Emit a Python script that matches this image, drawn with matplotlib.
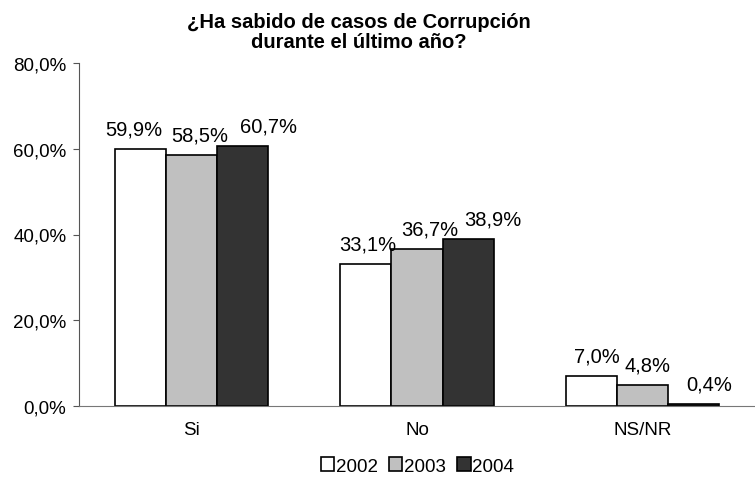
import matplotlib.pyplot as plt
import numpy as np

plt.rcParams["font.family"] = ["Liberation Sans", "DejaVu Sans"]

categories = ["Si", "No", "NS/NR"]
years = ["2002", "2003", "2004"]
v2002 = [59.9, 33.1, 7.0]
v2003 = [58.5, 36.7, 4.8]
v2004 = [60.7, 38.9, 0.4]
colors = ["white", "#c0c0c0", "#333333"]
# horizontal shift of each value label in pixels (Excel nudges them sideways)
label_dx = [[-7, 2, 6], [8, 13, 5], [26, 25, 16]]

fig = plt.figure(figsize=(7.55, 4.81), dpi=100)
ax = fig.add_axes([79 / 755, 74 / 481, 676 / 755, 343 / 481])

x = np.arange(len(categories))
w = 0.227
for i, vals in enumerate([v2002, v2003, v2004]):
    pos = x + (i - 1) * w
    ax.bar(pos, vals, width=w, color=colors[i], edgecolor="black",
           linewidth=1.2, label=years[i])
    for j, (p, v) in enumerate(zip(pos, vals)):
        ax.annotate(f"{v:.1f}%".replace(".", ","), (p, v),
                    xytext=(label_dx[i][j] * 0.72, 10.5),
                    textcoords="offset points",
                    ha="center", va="baseline", fontsize=14.5)

ax.set_xlim(-0.5, 2.5)
ax.set_ylim(0, 80)
ax.set_yticks([0, 20, 40, 60, 80])
ax.set_yticklabels(["0,0%", "20,0%", "40,0%", "60,0%", "80,0%"], fontsize=13.5)
ax.set_xticks(x)
ax.set_xticklabels(categories, fontsize=13.5)
ax.tick_params(axis="x", length=0, pad=11)
ax.tick_params(axis="y", length=4, direction="out", color="#555555", pad=5)

for s in ["top", "right"]:
    ax.spines[s].set_visible(False)
ax.spines["left"].set_color("#555555")
ax.spines["bottom"].set_color("#777777")

fig.text(0.475, 0.974, "¿Ha sabido de casos de Corrupción\ndurante el último año?",
         ha="center", va="top", fontsize=14.5, fontweight="bold",
         linespacing=1.1)

ax.legend(loc="center", bbox_to_anchor=(0.501, -0.175), ncol=3,
          frameon=False, fontsize=13.5, handlelength=0.7, handleheight=0.7,
          handletextpad=0.1, columnspacing=0.6, borderpad=0)

fig.savefig("out.png", dpi=100)
